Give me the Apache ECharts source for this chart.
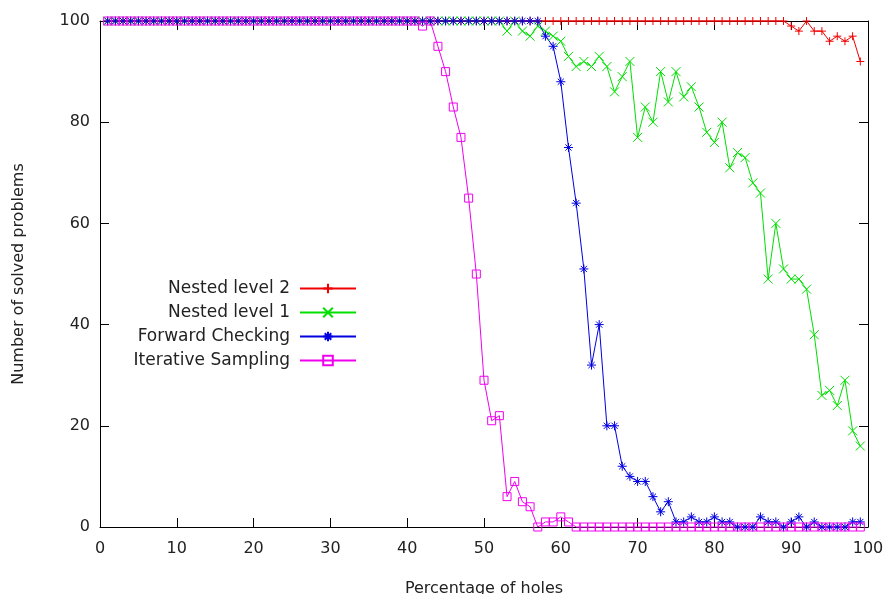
<!DOCTYPE html>
<html>
<head>
<meta charset="utf-8">
<script src="https://cdn.jsdelivr.net/npm/echarts@6/dist/echarts.min.js"></script>
<style>html,body{margin:0;padding:0;background:#fff;}#c{width:890px;height:594px;}</style>
</head>
<body>
<div id="c"></div>
<script>
// x positions: percentage of holes 1..99
const holes = Array.from({length: 99}, (_, i) => i + 1);
const xTicks = [0, 10, 20, 30, 40, 50, 60, 70, 80, 90, 100];
const yTicks = [0, 20, 40, 60, 80, 100];

const nestedLevel2 = [
  100,100,100,100,100,100,100,100,100,100,
  100,100,100,100,100,100,100,100,100,100,
  100,100,100,100,100,100,100,100,100,100,
  100,100,100,100,100,100,100,100,100,100,
  100,100,100,100,100,100,100,100,100,100,
  100,100,100,100,100,100,100,100,100,100,
  100,100,100,100,100,100,100,100,100,100,
  100,100,100,100,100,100,100,100,100,100,
  100,100,100,100,100,100,100,100,100,99,
  98,100,98,98,96,97,96,97,92
];
const nestedLevel1 = [
  100,100,100,100,100,100,100,100,100,100,
  100,100,100,100,100,100,100,100,100,100,
  100,100,100,100,100,100,100,100,100,100,
  100,100,100,100,100,100,100,100,100,100,
  100,100,100,100,100,100,100,100,100,100,
  100,100,98,100,98,97,99,98,97,96,
  93,91,92,91,93,91,86,89,92,77,
  83,80,90,84,90,85,87,83,78,76,
  80,71,74,73,68,66,49,60,51,49,
  49,47,38,26,27,24,29,19,16
];
const forwardChecking = [
  100,100,100,100,100,100,100,100,100,100,
  100,100,100,100,100,100,100,100,100,100,
  100,100,100,100,100,100,100,100,100,100,
  100,100,100,100,100,100,100,100,100,100,
  100,100,100,100,100,100,100,100,100,100,
  100,100,100,100,100,100,100,97,95,88,
  75,64,51,32,40,20,20,12,10,9,
  9,6,3,5,1,1,2,1,1,2,
  1,1,0,0,0,2,1,1,0,1,
  2,0,1,0,0,0,0,1,1
];
const iterativeSampling = [
  100,100,100,100,100,100,100,100,100,100,
  100,100,100,100,100,100,100,100,100,100,
  100,100,100,100,100,100,100,100,100,100,
  100,100,100,100,100,100,100,100,100,100,
  100,99,100,95,90,83,77,65,50,29,
  21,22,6,9,5,4,0,1,1,2,
  1,0,0,0,0,0,0,0,0,0,
  0,0,0,0,0,0,0,0,0,0,
  0,0,0,0,0,0,0,0,0,0,
  0,0,0,0,0,0,0,0,0
];
const seriesNames = ['Nested level 2', 'Nested level 1', 'Forward Checking', 'Iterative Sampling'];

const colors = ['#f00000', '#00e000', '#0000e0', '#f000f0'];
const symbols = [
  'path://M5,0L5,10M0,5L10,5',
  'path://M0,0L10,10M10,0L0,10',
  'path://M5,0L5,10M0,5L10,5M1.6,1.6L8.4,8.4M8.4,1.6L1.6,8.4',
  'path://M0,0L10,0L10,10L0,10Z'
];
const sizes = [8, 9, 9, 8];
const allData = [nestedLevel2, nestedLevel1, forwardChecking, iterativeSampling];

const font = 'DejaVu Sans';
const txt = '#222';

function mkSeries(i) {
  return {
    name: seriesNames[i],
    type: 'line',
    xAxisIndex: 0,
    yAxisIndex: 0,
    data: allData[i].map((v, k) => [holes[k], v]),
    symbol: symbols[i],
    symbolSize: sizes[i],
    showAllSymbol: true,
    clip: false,
    lineStyle: {color: colors[i], width: 1},
    itemStyle: {color: 'rgba(0,0,0,0)', borderColor: colors[i], borderWidth: 1},
    emphasis: {disabled: true}
  };
}

const axisCommon = {
  axisLine: {show: true, onZero: false, lineStyle: {color: '#000', width: 1}},
  axisTick: {show: true, inside: true, length: 9, lineStyle: {color: '#000'}},
  splitLine: {show: false}
};

const chart = echarts.init(document.getElementById('c'), null, {renderer: 'canvas'});
chart.setOption({
  animation: false,
  backgroundColor: '#fff',
  grid: {left: 100, right: 22, top: 21, bottom: 67, containLabel: false, outerBoundsMode: 'none'},
  legend: {
    orient: 'vertical',
    right: 533,
    top: 280,
    padding: 0,
    align: 'right',
    itemWidth: 56,
    itemHeight: 12,
    itemGap: 7,
    selectedMode: false,
    data: seriesNames,
    textStyle: {fontFamily: font, fontSize: 17, color: txt, padding: [0, 5, 0, 0]}
  },
  xAxis: [
    Object.assign({}, axisCommon, {
      type: 'value', position: 'bottom', min: xTicks[0], max: xTicks[xTicks.length - 1], interval: 10,
      name: 'Percentage of holes', nameLocation: 'middle', nameGap: 54,
      nameTextStyle: {fontFamily: font, fontSize: 16, color: txt},
      axisLabel: {fontFamily: font, fontSize: 16, color: txt, margin: 14}
    }),
    Object.assign({}, axisCommon, {
      type: 'value', position: 'top', min: xTicks[0], max: xTicks[xTicks.length - 1], interval: 10,
      axisLabel: {show: false}
    })
  ],
  yAxis: [
    Object.assign({}, axisCommon, {
      type: 'value', position: 'left', min: yTicks[0], max: yTicks[yTicks.length - 1], interval: 20,
      name: 'Number of solved problems', nameLocation: 'middle', nameGap: 73,
      nameTextStyle: {fontFamily: font, fontSize: 16, color: txt},
      axisLabel: {fontFamily: font, fontSize: 16, color: txt, margin: 10}
    }),
    Object.assign({}, axisCommon, {
      type: 'value', position: 'right', min: yTicks[0], max: yTicks[yTicks.length - 1], interval: 20,
      axisLabel: {show: false}
    })
  ],
  series: [0, 1, 2, 3].map(mkSeries)
});
</script>
</body>
</html>
